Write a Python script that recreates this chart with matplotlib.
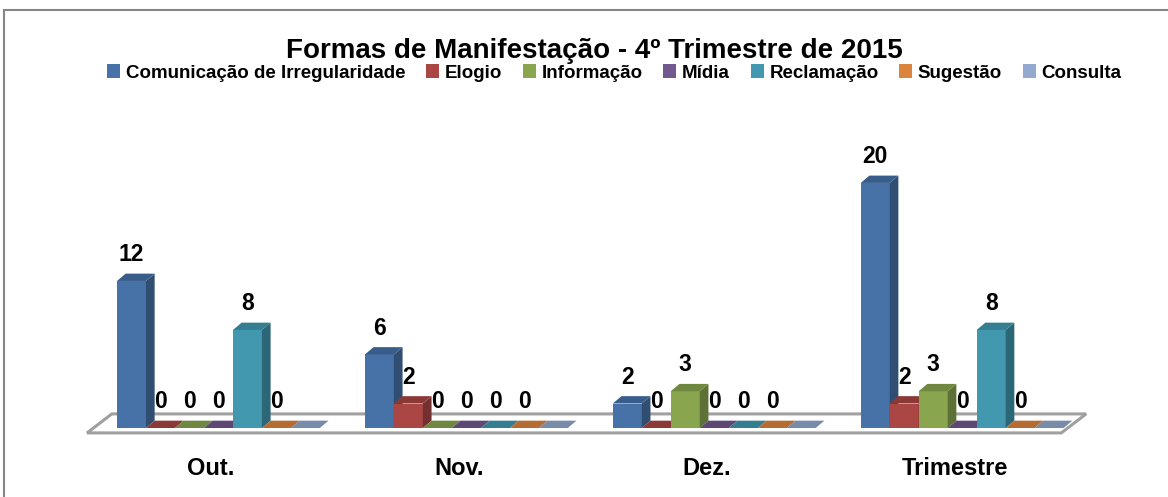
import matplotlib.pyplot as plt
from matplotlib.patches import Polygon, Patch, Rectangle
import numpy as np

categories = ['Out.', 'Nov.', 'Dez.', 'Trimestre']
series = ['Comunicação de Irregularidade', 'Elogio', 'Informação', 'Mídia',
          'Reclamação', 'Sugestão', 'Consulta']
comunicacao = [12, 6, 2, 20]
elogio = [0, 2, 0, 2]
informacao = [0, 0, 3, 3]
midia = [0, 0, 0, 0]
reclamacao = [8, 0, 0, 8]
sugestao = [0, 0, 0, 0]
consulta = [np.nan, np.nan, np.nan, np.nan]
values = [comunicacao, elogio, informacao, midia, reclamacao, sugestao, consulta]

front = ['#4672A8', '#AA4643', '#89A54E', '#71588F', '#4198AF', '#DB843D', '#93A9CF']


def shade(c, f):
    r, g, b = [int(c[k:k + 2], 16) for k in (1, 3, 5)]
    return (r * f / 255, g * f / 255, b * f / 255)


plt.rcParams['font.family'] = ['Liberation Sans', 'DejaVu Sans']
plt.rcParams['font.weight'] = 'bold'

fig = plt.figure(figsize=(11.68, 4.97), dpi=100)
ax = fig.add_axes([0.0809, 0.0402, 0.849, 0.641])
ax.set_xlim(-0.5, 3.5)
ax.set_ylim(-4, 22)
ax.axis('off')

W = 29 / 248   # bar width in category units
DX = 0.035     # depth offset x
DY = 0.6       # depth offset y

# floor
fl, fr, sh = -0.53, 3.40, 0.1
ax.add_patch(Polygon([(fl, -0.4), (fr, -0.4), (fr + sh, 1.15), (fl + sh, 1.15)],
                     closed=True, facecolor='white', edgecolor='#A0A0A0',
                     linewidth=2.2, zorder=1, clip_on=False))

for j, (name, vals) in enumerate(zip(series, values)):
    for i, v in enumerate(vals):
        h = 0 if np.isnan(v) else v
        x0 = i + (j - 3.5) * W
        z = 2 + i * 10 + j
        c_front = front[j]
        c_side = shade(front[j], 0.68)
        c_top = shade(front[j], 0.82)
        ax.bar(x0, h, width=W, align='edge', color=c_front, linewidth=0, zorder=z)
        ax.add_patch(Polygon([(x0 + W, 0), (x0 + W + DX, DY), (x0 + W + DX, h + DY), (x0 + W, h)],
                             closed=True, facecolor=c_side, edgecolor='none', zorder=z))
        ax.add_patch(Polygon([(x0, h), (x0 + W, h), (x0 + W + DX, h + DY), (x0 + DX, h + DY)],
                             closed=True, facecolor=c_top, edgecolor='none', zorder=z))
        if not np.isnan(v):
            ax.annotate(f'{int(v)}', (x0 + W / 2, h), xytext=(0, 19),
                        textcoords='offset points', ha='center', va='center',
                        fontsize=16.5, fontweight='bold', zorder=100)

for i, cat in enumerate(categories):
    ax.text(i - 0.03, -3.3, cat, ha='center', va='center', fontsize=17, fontweight='bold')

fig.text(0.509, 0.898, 'Formas de Manifestação - 4º Trimestre de 2015',
         ha='center', va='center', fontsize=20, fontweight='bold')

handles = [Patch(facecolor=c, edgecolor='none') for c in front]
fig.legend(handles, series, loc='center', bbox_to_anchor=(0.526, 0.853), ncol=7,
           frameon=False, handlelength=0.7, handleheight=0.7,
           handletextpad=0.3, columnspacing=1.1, prop={'weight': 'bold', 'size': 13.5})

fig.add_artist(Rectangle((4 / 1168, -0.1), 1.2, 1 - 10 / 497 + 0.1, transform=fig.transFigure,
                         fill=False, edgecolor='#868686', linewidth=1.5))

fig.savefig('out.png', dpi=100)
